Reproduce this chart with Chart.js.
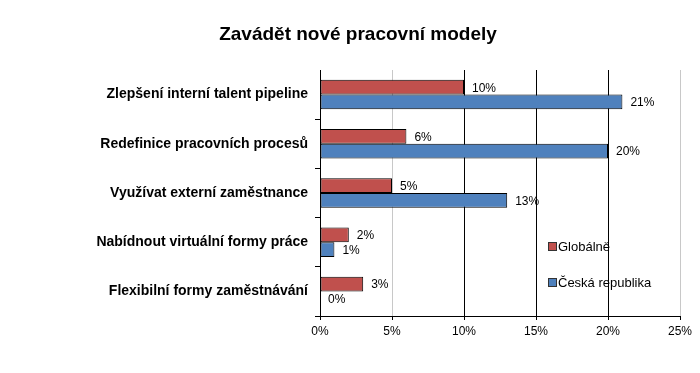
<!DOCTYPE html>
<html lang="cs">
<head>
  <meta charset="UTF-8">
  <title>Zavádět nové pracovní modely</title>
  <script src="https://cdn.jsdelivr.net/npm/chart.js"></script>
  <style>
    html, body { margin: 0; padding: 0; background: #fff; }
    #wrap { width: 700px; height: 373px; position: relative; }
  </style>
</head>
<body>
  <div id="wrap"><canvas id="chartModely"></canvas></div>

  <script>
    const chartTitle = 'Zavádět nové pracovní modely';
    const kategorie = [
      'Zlepšení interní talent pipeline',
      'Redefinice pracovních procesů',
      'Využívat externí zaměstnance',
      'Nabídnout virtuální formy práce',
      'Flexibilní formy zaměstnávání'
    ];
    const globalne = [10, 6, 5, 2, 3];
    const ceskaRepublika = [21, 20, 13, 1, 0];
    const xTicks = [0, 5, 10, 15, 20, 25];

    const FONT = "'Liberation Sans', Arial, sans-serif";

    // popisky hodnot, titulek a legenda
    const extras = {
      id: 'extras',
      afterDatasetsDraw(chart) {
        const ctx = chart.ctx;
        ctx.save();
        ctx.fillStyle = '#000';
        ctx.font = '12px ' + FONT;
        ctx.textBaseline = 'middle';
        ctx.textAlign = 'left';
        chart.data.datasets.forEach((ds, i) => {
          chart.getDatasetMeta(i).data.forEach((bar, j) => {
            ctx.fillText(ds.data[j] + '%', bar.x + 8, bar.y + 1);
          });
        });

        // titulek
        ctx.font = 'bold 19px ' + FONT;
        ctx.textAlign = 'center';
        ctx.fillText(chartTitle, 358, 35);

        // legenda
        ctx.font = '13px ' + FONT;
        ctx.textAlign = 'left';
        const legendY = [247, 283];
        chart.data.datasets.forEach((ds, i) => {
          const y = legendY[i];
          ctx.fillStyle = ds.backgroundColor;
          ctx.fillRect(548.5, y - 4.5, 8, 8);
          ctx.strokeStyle = '#333';
          ctx.lineWidth = 1;
          ctx.strokeRect(548.5, y - 4.5, 8, 8);
          ctx.fillStyle = '#000';
          ctx.fillText(ds.label, 558, y);
        });
        ctx.restore();
      }
    };

    const ctx = document.getElementById('chartModely').getContext('2d');
    new Chart(ctx, {
      type: 'bar',
      data: {
        labels: kategorie,
        datasets: [
          {
            label: 'Globálně',
            data: globalne,
            backgroundColor: '#C0504D',
            borderColor: '#000',
            borderWidth: 1,
            borderSkipped: false,
            categoryPercentage: 0.6,
            barPercentage: 1
          },
          {
            label: 'Česká republika',
            data: ceskaRepublika,
            backgroundColor: '#4F81BD',
            borderColor: '#000',
            borderWidth: 1,
            borderSkipped: false,
            categoryPercentage: 0.6,
            barPercentage: 1
          }
        ]
      },
      options: {
        indexAxis: 'y',
        responsive: true,
        maintainAspectRatio: false,
        animation: false,
        layout: { padding: { top: 70, right: 20, bottom: 34, left: 0 } },
        plugins: {
          legend: { display: false },
          title: { display: false },
          tooltip: { enabled: false }
        },
        scales: {
          x: {
            min: 0,
            max: 25,
            afterBuildTicks: (scale) => { scale.ticks = xTicks.map(v => ({ value: v })); },
            afterFit: (scale) => { scale.height = 23; },
            border: { color: '#000' },
            grid: {
              color: (c) => (c.tick && (c.tick.value === 5 || c.tick.value === 25)) ? '#c8c8c8' : '#000',
              tickColor: '#000',
              tickLength: 4
            },
            ticks: {
              color: '#000',
              font: { family: FONT, size: 12 },
              padding: 4,
              callback: (v) => v + '%'
            }
          },
          y: {
            afterFit: (scale) => { scale.width = 320; },
            border: { color: '#000' },
            grid: {
              drawOnChartArea: false,
              tickColor: (c) => c.index === 0 ? 'rgba(0,0,0,0)' : '#000',
              tickLength: 5
            },
            ticks: {
              color: '#000',
              font: { family: FONT, size: 14, weight: 'bold' },
              padding: 7
            }
          }
        }
      },
      plugins: [extras]
    });
  </script>
</body>
</html>
